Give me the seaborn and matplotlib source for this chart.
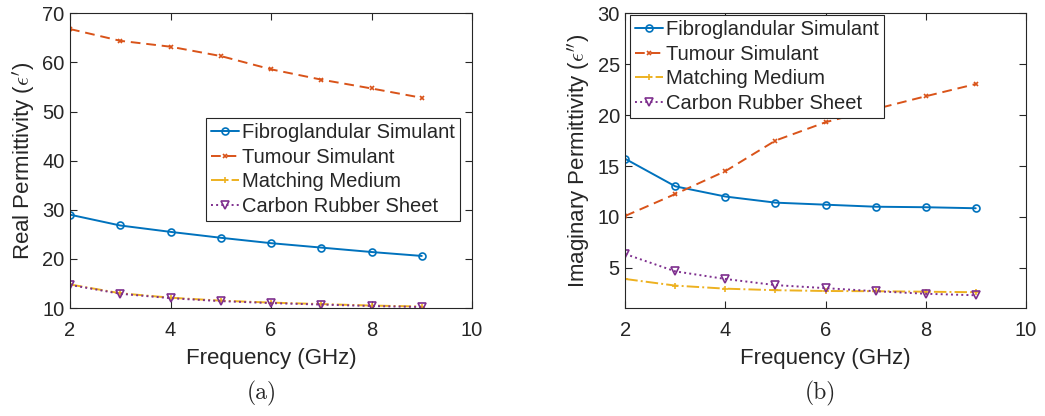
import numpy as np
import pandas as pd
import matplotlib
matplotlib.use("Agg")
import matplotlib.pyplot as plt
import seaborn as sns

freq = [2, 3, 4, 5, 6, 7, 8, 9]
series_names = ["Fibroglandular Simulant", "Tumour Simulant", "Matching Medium", "Carbon Rubber Sheet"]

real_fibro = [29.0, 26.8, 25.5, 24.3, 23.2, 22.3, 21.4, 20.6]
real_tumour = [66.8, 64.4, 63.2, 61.3, 58.6, 56.5, 54.7, 52.8]
real_matching = [14.8, 13.0, 12.1, 11.5, 11.1, 10.8, 10.5, 10.3]
real_carbon = [14.7, 12.9, 12.0, 11.4, 11.0, 10.7, 10.4, 10.2]

imag_fibro = [15.7, 13.0, 12.0, 11.4, 11.2, 11.0, 10.95, 10.85]
imag_tumour = [10.1, 12.25, 14.5, 17.5, 19.3, 20.6, 21.85, 23.05]
imag_matching = [3.9, 3.25, 2.95, 2.8, 2.72, 2.7, 2.65, 2.6]
imag_carbon = [6.35, 4.65, 3.9, 3.3, 3.0, 2.7, 2.45, 2.3]

x_ticks = [2, 4, 6, 8, 10]
real_yticks = [10, 20, 30, 40, 50, 60, 70]
imag_yticks = [5, 10, 15, 20, 25, 30]

sns.set_theme(style="white")
plt.rcParams["font.family"] = ["Liberation Sans", "DejaVu Sans"]
plt.rcParams["mathtext.fontset"] = "cm"

colors = ["#0072BD", "#D95319", "#EDB120", "#7E2F8E"]
styles = [dict(linestyle="-", marker="o", ms=5),
          dict(linestyle=(0, (5, 3)), marker="x", ms=3.5),
          dict(linestyle="-.", marker="+", ms=5),
          dict(linestyle=":", marker="v", ms=5.5)]

fig = plt.figure(figsize=(10.45, 4.16), dpi=100)
ax1 = fig.add_axes([0.067, 0.2596, 0.3847, 0.7084])
ax2 = fig.add_axes([0.5984, 0.2596, 0.3832, 0.7084])

def draw(ax, data):
    for name, vals, c, st in zip(series_names, data, colors, styles):
        sns.lineplot(x=freq, y=vals, ax=ax, color=c, label=name,
                     linestyle=st["linestyle"], marker=st["marker"],
                     markersize=st["ms"], markerfacecolor="none", markeredgecolor=c,
                     markeredgewidth=1.2, linewidth=1.4)
    ax.set_xlim(2, 10)
    ax.set_xticks(x_ticks)
    ax.tick_params(direction="in", length=5, width=0.8, top=True, right=True,
                   bottom=True, left=True, labelsize=14.5, colors="#262626")
    ax.tick_params(axis="x", pad=9)
    ax.tick_params(axis="y", pad=4)
    for sp in ax.spines.values():
        sp.set_color("#262626")
        sp.set_linewidth(0.8)
    ax.set_xlabel("Frequency (GHz)", fontsize=16, color="#262626", labelpad=6)
    ax.grid(False)

legend_kw = dict(borderaxespad=0, fontsize=14.5, frameon=True, fancybox=False,
                 handlelength=1.4, handletextpad=0.15, labelspacing=0.28, borderpad=0.25)

draw(ax1, [real_fibro, real_tumour, real_matching, real_carbon])
ax1.set_ylim(10, 70)
ax1.set_yticks(real_yticks)
ax1.set_ylabel(r"Real Permittivity ($\epsilon'$)", fontsize=16, color="#262626", labelpad=4)
leg1 = ax1.legend(loc="upper right", bbox_to_anchor=(0.970, 0.645), **legend_kw)

draw(ax2, [imag_fibro, imag_tumour, imag_matching, imag_carbon])
ax2.set_ylim(1.05, 30)
ax2.set_yticks(imag_yticks)
ax2.set_ylabel(r"Imaginary Permittivity ($\epsilon''$)", fontsize=16, color="#262626", labelpad=4)
leg2 = ax2.legend(loc="upper left", bbox_to_anchor=(0.012, 0.994), **legend_kw)

for leg in (leg1, leg2):
    fr = leg.get_frame()
    fr.set_edgecolor("#262626")
    fr.set_linewidth(0.8)
    fr.set_alpha(1)

fig.text(262 / 1045, 1 - 393 / 416, "(a)", fontsize=17, family="cmr10", ha="center", va="center")
fig.text(820 / 1045, 1 - 393 / 416, "(b)", fontsize=17, family="cmr10", ha="center", va="center")

fig.savefig("out.png", dpi=100)
